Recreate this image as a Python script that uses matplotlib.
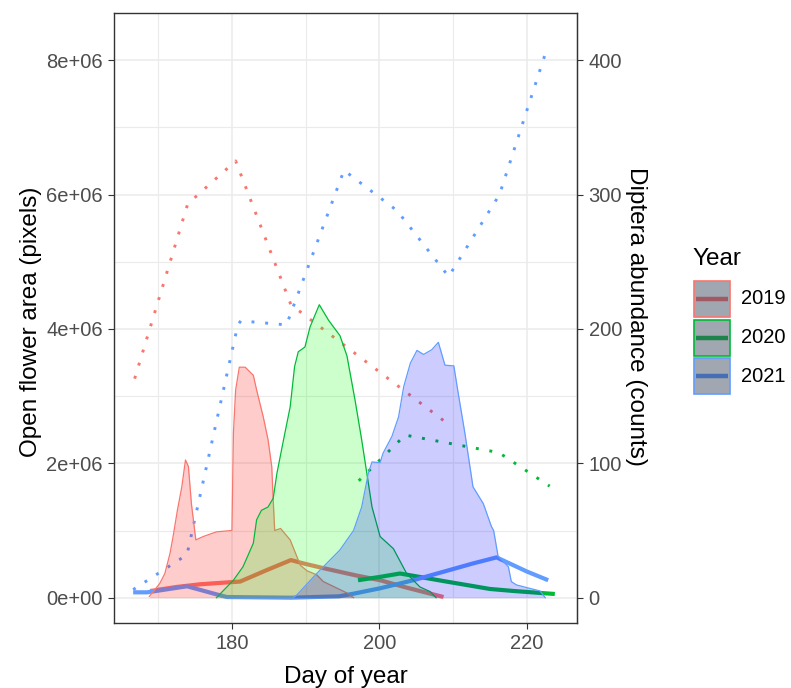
import matplotlib.pyplot as plt
from matplotlib.patches import Rectangle
from matplotlib.lines import Line2D
import numpy as np

plt.rcParams['font.family'] = ['Liberation Sans', 'DejaVu Sans']

years = ['2019', '2020', '2021']
line_cols = ['#F8766D', '#00BA38', '#619CFF']
fill_cols = ['#FF0000', '#00FF00', '#0000FF']
key_line_cols = ['#A05A64', '#1E824B', '#466EB4']

# open flower area, millions of pixels
area_day_2019 = [168.8, 170.2, 170.9, 171.6, 172.0, 172.6, 173.2, 173.7, 174.1, 174.5, 175.1, 176.1,
                 177.9, 180.0, 180.2, 180.5, 181.0, 181.8, 182.9, 183.35, 184.25, 184.9, 185.4, 185.6,
                 185.8, 186.6, 187.9, 189.0, 189.3, 190.2, 191.5, 192.4, 195.6, 196.5]
area_val_2019 = [0.02, 0.21, 0.36, 0.66, 0.90, 1.30, 1.65, 2.05, 1.95, 1.40, 0.86, 0.91,
                 0.98, 1.00, 2.45, 3.09, 3.43, 3.43, 3.31, 3.09, 2.69, 2.35, 1.95, 1.45,
                 1.00, 1.03, 0.86, 0.56, 0.48, 0.40, 0.34, 0.24, 0.07, 0.0]

area_day_2020 = [177.9, 180.2, 181.5, 182.9, 183.35, 184.0, 184.9, 185.6, 186.1, 187.0, 187.9, 188.5,
                 189.0, 189.9, 190.6, 191.85, 193.1, 194.65, 195.6, 196.7, 197.6, 198.3, 199.0, 200.1,
                 201.9, 203.7, 205.5, 206.9, 207.7]
area_val_2020 = [0.0, 0.26, 0.46, 0.81, 1.16, 1.30, 1.35, 1.48, 1.85, 2.35, 2.84, 3.44,
                 3.66, 3.73, 4.03, 4.36, 4.13, 3.90, 3.60, 2.94, 2.35, 1.85, 1.35, 0.91,
                 0.73, 0.36, 0.16, 0.09, 0.0]

area_day_2021 = [188.3, 188.8, 191.5, 194.65, 196.5, 197.6, 198.5, 199.0, 200.1, 200.5, 201.7, 202.6,
                 203.3, 204.2, 205.1, 206.0, 207.1, 208.0, 208.9, 210.1, 210.7, 211.6, 212.7, 214.1,
                 215.2, 215.5, 216.1, 217.5, 217.9, 218.6, 220.0, 221.8, 222.5]
area_val_2021 = [0.0, 0.04, 0.36, 0.71, 1.00, 1.35, 1.85, 2.02, 2.01, 2.15, 2.40, 2.69,
                 3.14, 3.49, 3.68, 3.62, 3.69, 3.80, 3.46, 3.45, 3.04, 2.45, 1.65, 1.40,
                 1.06, 1.00, 0.62, 0.46, 0.24, 0.19, 0.15, 0.10, 0.0]

# thick solid lines, millions of pixels
line_day_2019 = [168.9, 172.5, 175.7, 179.7, 181.1, 184.7, 188.0, 189.7, 192.4, 196.9, 200.1, 203.7, 208.7]
line_val_2019 = [0.10, 0.16, 0.20, 0.23, 0.24, 0.41, 0.56, 0.51, 0.44, 0.33, 0.26, 0.15, 0.01]
line_day_2020 = [197.1, 200.1, 202.8, 209.1, 215.0, 218.2, 223.8]
line_val_2020 = [0.26, 0.31, 0.36, 0.24, 0.13, 0.10, 0.055]
line_day_2021 = [166.6, 168.5, 173.9, 177.9, 179.3, 188.0, 194.5, 196.5, 200.1, 204.6, 212.7, 215.9, 220.0, 222.9]
line_val_2021 = [0.08, 0.08, 0.17, 0.05, 0.01, 0.0, 0.02, 0.06, 0.14, 0.26, 0.51, 0.60, 0.39, 0.26]

# Diptera abundance (counts), secondary axis
dip_day_2019 = [166.8, 174.0, 180.5, 188.0, 208.9]
dip_cnt_2019 = [163, 293, 325, 218, 131]
dip_day_2020 = [197.2, 203.5, 216.2, 223.1]
dip_cnt_2020 = [87, 121, 108, 83]
dip_day_2021 = [166.6, 173.9, 180.8, 181.2, 187.4, 195.2, 202.4, 209.4, 216.3, 222.7]
dip_cnt_2021 = [6, 32, 203, 206, 203, 318, 288, 239, 300, 408]

sec_scale = 20000  # counts -> pixels

x_ticks = [180, 200, 220]
y_ticks = [0, 2e6, 4e6, 6e6, 8e6]
y_tick_labels = ['0e+00', '2e+06', '4e+06', '6e+06', '8e+06']
y2_ticks = [0, 100, 200, 300, 400]

area_days = [area_day_2019, area_day_2020, area_day_2021]
area_vals = [area_val_2019, area_val_2020, area_val_2021]
line_days = [line_day_2019, line_day_2020, line_day_2021]
line_vals = [line_val_2019, line_val_2020, line_val_2021]
dip_days = [dip_day_2019, dip_day_2020, dip_day_2021]
dip_cnts = [dip_cnt_2019, dip_cnt_2020, dip_cnt_2021]

W, H = 791, 688
fig = plt.figure(figsize=(W / 100, H / 100), dpi=100)
fig.subplots_adjust(left=114 / W, right=577.3 / W, bottom=1 - 623 / H, top=1 - 13.3 / H)
ax = fig.add_subplot(111)

# lines first, fills go on top of them
for i in range(3):
    ax.plot(line_days[i], np.array(line_vals[i]) * 1e6, color=line_cols[i], lw=3.0,
            solid_capstyle='butt', zorder=2)
    ax.plot(dip_days[i], np.array(dip_cnts[i]) * sec_scale, color=line_cols[i], lw=2.1,
            ls=(0, (1, 3.7)), zorder=2)

for i in range(3):
    v = np.array(area_vals[i]) * 1e6
    ax.fill_between(area_days[i], 0, v, color=fill_cols[i], alpha=0.2, lw=0, zorder=3 + i)
    ax.plot(area_days[i], v, color=line_cols[i], lw=0.9, zorder=3 + i)

ax.set_xlim(164.0, 226.85)
ax.set_ylim(-0.3765e6, 8.697e6)
ax.set_xticks(x_ticks)
ax.set_xticks([170, 190, 210], minor=True)
ax.set_yticks(y_ticks)
ax.set_yticklabels(y_tick_labels)
ax.set_yticks([1e6, 3e6, 5e6, 7e6], minor=True)
ax.grid(True, which='major', color='#EBEBEB', lw=1.1, zorder=0)
ax.grid(True, which='minor', color='#EBEBEB', lw=0.8, zorder=0)
ax.set_axisbelow(True)
ax.tick_params(which='major', length=4.3, width=0.8, color='#333333', labelcolor='#4D4D4D',
               labelsize=14.5, pad=3.8)
ax.tick_params(which='minor', length=0)
for s in ax.spines.values():
    s.set_color('#333333')
    s.set_linewidth(1.0)

ax2 = ax.secondary_yaxis('right', functions=(lambda p: p / sec_scale, lambda c: c * sec_scale))
ax2.set_yticks(y2_ticks)
ax2.tick_params(length=4.3, width=0.8, color='#333333', labelcolor='#4D4D4D', labelsize=14.5, pad=3.8)
ax2.spines['right'].set_color('#333333')

fig.text(345.6 / W, 1 - 683.3 / H, 'Day of year', fontsize=17.5, ha='center', va='baseline')
fig.text(31 / W, 1 - 322 / H, 'Open flower area (pixels)', fontsize=17.5, rotation=90,
         ha='center', va='center')
fig.text(636 / W, 1 - 316 / H, 'Diptera abundance (counts)', fontsize=17.5, rotation=270,
         ha='center', va='center')

# legend
fig.text(692 / W, 1 - 265 / H, 'Year', fontsize=17.5, ha='left', va='baseline')
key_w, key_h = 36, 36
for i in range(3):
    y0 = 281 + i * 38.6
    fig.add_artist(Rectangle((694 / W, 1 - (y0 + key_h) / H), key_w / W, key_h / H,
                             transform=fig.transFigure, facecolor='#A0A7B0',
                             edgecolor=line_cols[i], lw=1.2))
    yc = 1 - (y0 + key_h / 2) / H
    fig.add_artist(Line2D([696 / W, 728 / W], [yc, yc], transform=fig.transFigure,
                          color=key_line_cols[i], lw=3.2, solid_capstyle='butt'))
    fig.text(741.5 / W, yc, years[i], fontsize=14.5, ha='left', va='center')

fig.savefig('out.png', dpi=100)
